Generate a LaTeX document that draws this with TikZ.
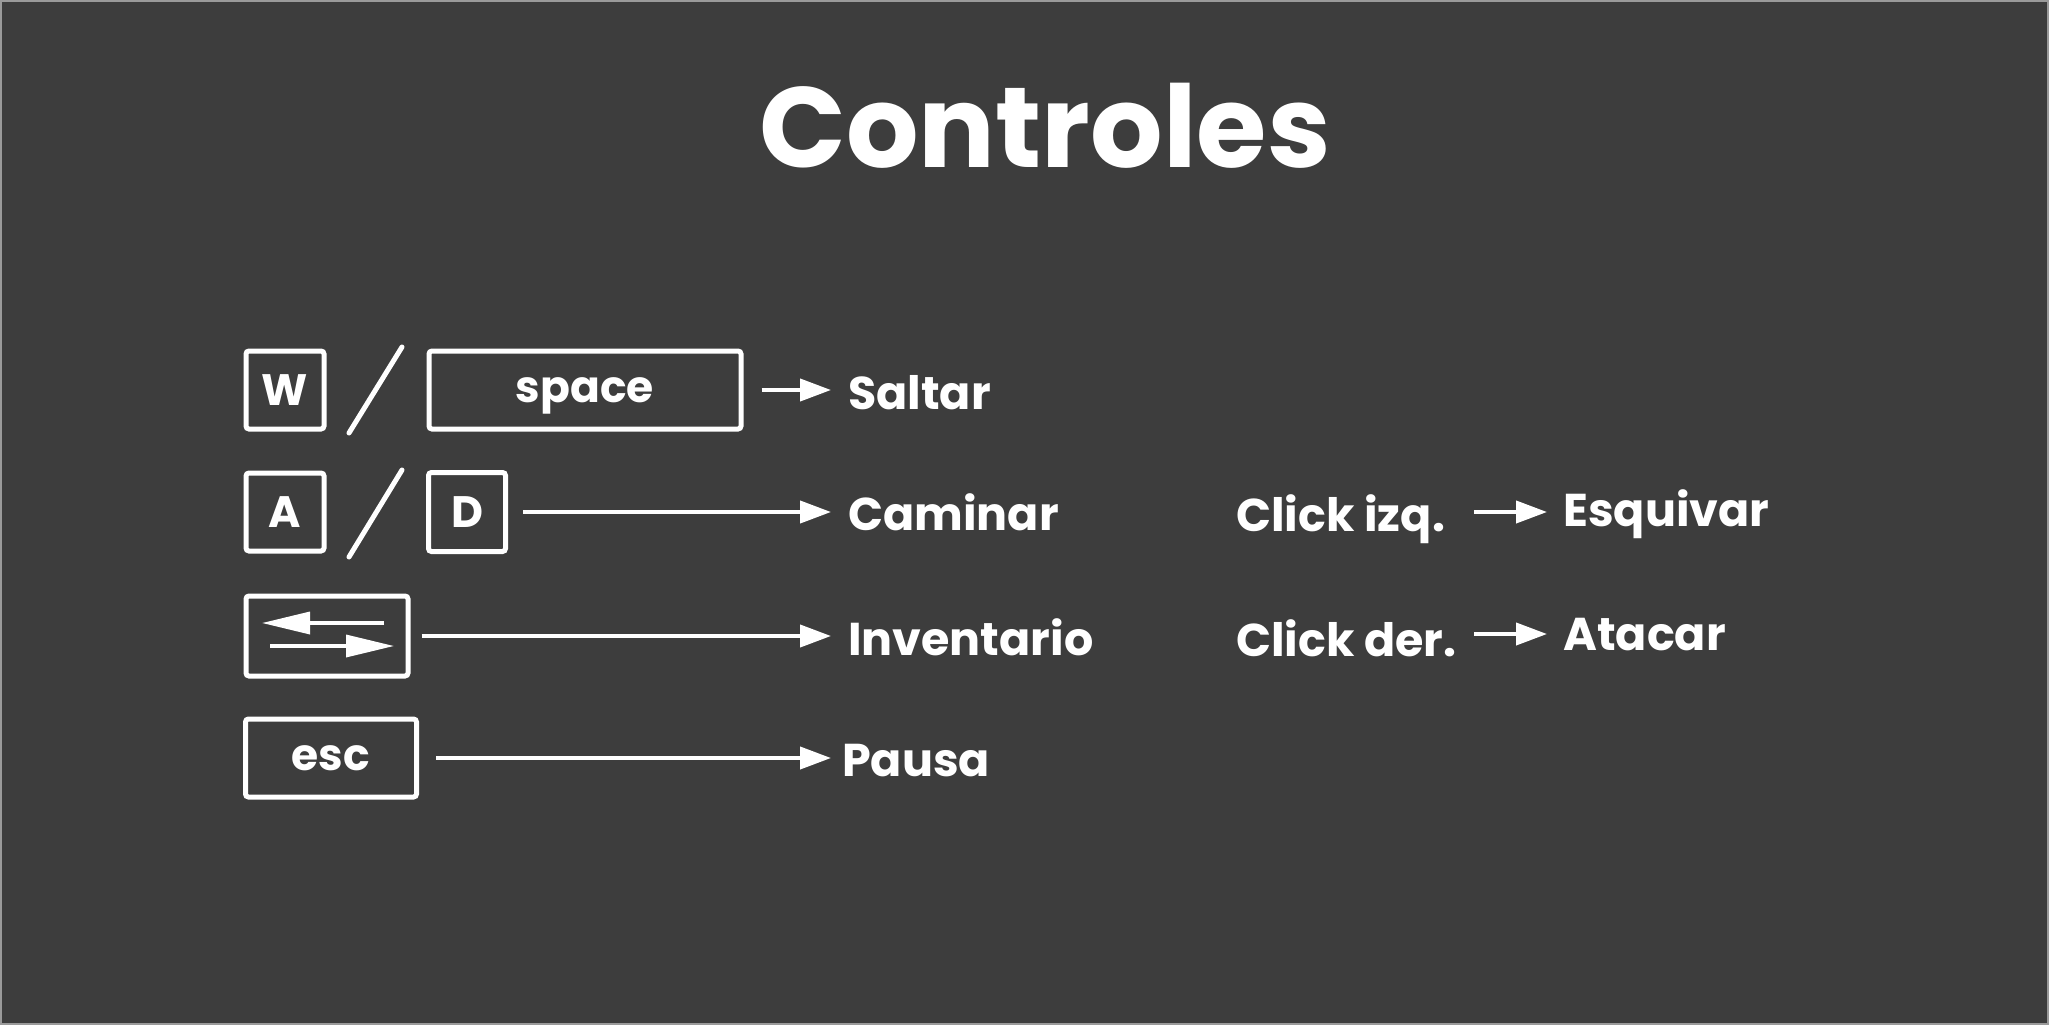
\documentclass[tikz,border=0pt]{standalone}
\usepackage{fontspec}
\setmainfont{Poppins}
\usetikzlibrary{arrows.meta}
\definecolor{bgc}{HTML}{3D3D3D}
\definecolor{edgec}{HTML}{9A9A9A}
\begin{document}
\begin{tikzpicture}[x=1pt,y=-1pt,
  keybox/.style={draw=white,line width=5pt,rounded corners=3pt,inner sep=0pt,
    text=white,font=\fontsize{44}{44}\selectfont\bfseries},
  capkey/.style={text height=31pt,text depth=0pt},
  lowkey/.style={text height=24pt,text depth=0pt},
  lab/.style={text=white,inner sep=0pt,anchor=base west,font=\fontsize{46}{46}\selectfont\bfseries},
  conn/.style={draw=white,line width=4pt,-{Triangle[length=31pt,width=22pt]}},
  slashln/.style={draw=white,line width=5pt,line cap=round},
  inarrow/.style={draw=white,line width=3.5pt,-{Triangle[length=48pt,width=22pt]}}]
\fill[bgc] (0,0) rectangle (2049,1025);
\draw[edgec,line width=2pt] (1,1) rectangle (2048,1024);
\useasboundingbox (0,0) rectangle (2049,1025);
% title
\node[text=white,inner sep=0pt,anchor=base,font=\fontsize{114}{114}\selectfont\bfseries] (title) at (1045,167) {Controles};
% keys
\node[keybox,capkey,minimum width=78pt,minimum height=78pt] (kw) at (285,390) {W};
\node[keybox,lowkey,minimum width=312pt,minimum height=78pt] (kspace) at (585,390) {space};
\node[keybox,capkey,minimum width=78pt,minimum height=78pt] (ka) at (285,512) {A};
\node[keybox,capkey,minimum width=77pt,minimum height=79pt] (kd) at (467,512) {D};
\node[keybox,minimum width=162pt,minimum height=80pt] (ktab) at (327,636) {};
\node[keybox,lowkey,minimum width=171pt,minimum height=78pt] (kesc) at (331,758) {esc};
% slashes
\coordinate (s1a) at (402,347);
\coordinate (s1b) at (349,433);
\coordinate (s2a) at (402,470);
\coordinate (s2b) at (349,557);
\draw[slashln] (s1a) -- (s1b);
\draw[slashln] (s2a) -- (s2b);
% tab icon arrows
\coordinate (ta1) at (384,623);
\coordinate (ta2) at (262,623);
\coordinate (tb1) at (270,646);
\coordinate (tb2) at (394,646);
\draw[inarrow] (ta1) -- (ta2);
\draw[inarrow] (tb1) -- (tb2);
% labels
\node[lab] (saltar) at (848,409) {Saltar};
\node[lab] (caminar) at (848,530) {Caminar};
\node[lab] (invent) at (848,655) {Inventario};
\node[lab] (pausa) at (842,776) {Pausa};
\node[lab] (cizq) at (1236,531) {Click izq.};
\node[lab] (esq) at (1563,526) {Esquivar};
\node[lab] (cder) at (1236,656) {Click der.};
\node[lab] (atac) at (1563,650) {Atacar};
% connectors
\draw[conn,shorten <=18pt,shorten >=17pt] (kspace.east) -- (kspace.east -| saltar.west);
\draw[conn,shorten <=15pt,shorten >=17pt] (kd.east) -- (kd.east -| caminar.west);
\draw[conn,shorten <=11pt,shorten >=17pt] (ktab.east) -- (ktab.east -| invent.west);
\draw[conn,shorten <=17pt,shorten >=11pt] (kesc.east) -- (kesc.east -| pausa.west);
\coordinate (cizqe) at (1474,512);
\coordinate (cdere) at (1474,634);
\draw[conn,shorten >=16pt] (cizqe) -- (cizqe -| esq.west);
\draw[conn,shorten >=16pt] (cdere) -- (cdere -| atac.west);
\end{tikzpicture}
\end{document}
